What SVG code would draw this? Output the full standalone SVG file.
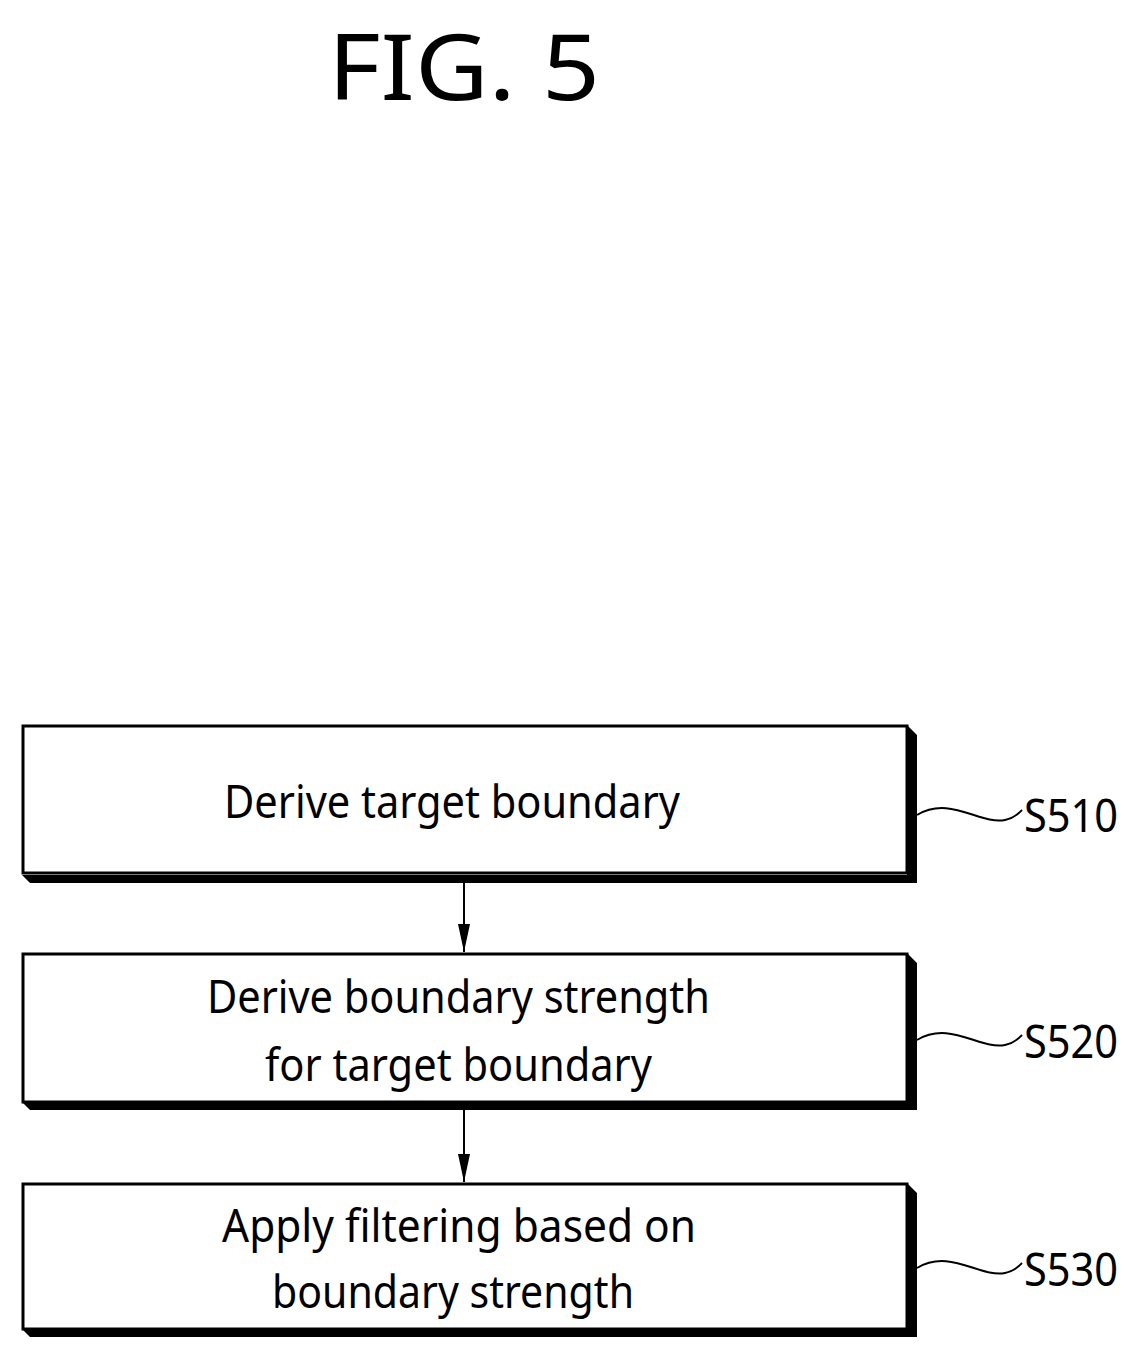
<svg xmlns="http://www.w3.org/2000/svg" width="1138" height="1359" viewBox="0 0 1138 1359">
<style>
.box{fill:#fff;stroke:#000;stroke-width:3}
.sh{fill:#000}
.t{font-family:"Noto Sans","Open Sans",sans-serif;font-size:46px;fill:#000}
.sq{fill:none;stroke:#000;stroke-width:2}
</style>
<defs><marker id="ah" markerWidth="28" markerHeight="12" refX="28" refY="6" orient="auto" markerUnits="userSpaceOnUse" viewBox="0 0 28 12"><path d="M0,0 L28,6 L0,12 Z" fill="#000"/></marker></defs>
<text x="328" y="100" font-family="Noto Sans,Open Sans,sans-serif" font-size="92" textLength="272" lengthAdjust="spacingAndGlyphs">FIG. 5</text>
<g id="n1">
<path class="sh" d="M907,725 L917,735 L917,883 L30,883 L22,875 L907,875 Z"/>
<rect class="box" x="23" y="726" width="884" height="147"/>
<text class="t" x="224" y="818" textLength="456" lengthAdjust="spacingAndGlyphs">Derive target boundary</text>
<path class="sq" d="M917,815 C950,795 980,825 1005,820 C1015,818 1020,812 1022,810"/>
<text class="t" x="1024" y="832" textLength="94" lengthAdjust="spacingAndGlyphs">S510</text>
</g>
<g id="n2">
<path class="sh" d="M907,953 L917,963 L917,1110 L30,1110 L22,1102 L907,1102 Z"/>
<rect class="box" x="23" y="954" width="884" height="148"/>
<text class="t" x="207" y="1013" textLength="503" lengthAdjust="spacingAndGlyphs">Derive boundary strength</text>
<text class="t" x="265" y="1081" textLength="387" lengthAdjust="spacingAndGlyphs">for target boundary</text>
<path class="sq" d="M917,1040 C950,1020 980,1050 1005,1045 C1015,1043 1020,1037 1022,1035"/>
<text class="t" x="1024" y="1058" textLength="94" lengthAdjust="spacingAndGlyphs">S520</text>
</g>
<g id="n3">
<path class="sh" d="M907,1183 L917,1193 L917,1337 L30,1337 L22,1329 L907,1329 Z"/>
<rect class="box" x="23" y="1184" width="884" height="145"/>
<text class="t" x="222" y="1242" textLength="474" lengthAdjust="spacingAndGlyphs">Apply filtering based on</text>
<text class="t" x="272" y="1308" textLength="362" lengthAdjust="spacingAndGlyphs">boundary strength</text>
<path class="sq" d="M917,1268 C950,1248 980,1278 1005,1273 C1015,1271 1020,1265 1022,1263"/>
<text class="t" x="1024" y="1286" textLength="94" lengthAdjust="spacingAndGlyphs">S530</text>
</g>
<g id="connectors" stroke="#000" stroke-width="2">
<line x1="464" y1="883" x2="464" y2="952" marker-end="url(#ah)"/>
<line x1="464" y1="1110" x2="464" y2="1182" marker-end="url(#ah)"/>
</g>
</svg>
